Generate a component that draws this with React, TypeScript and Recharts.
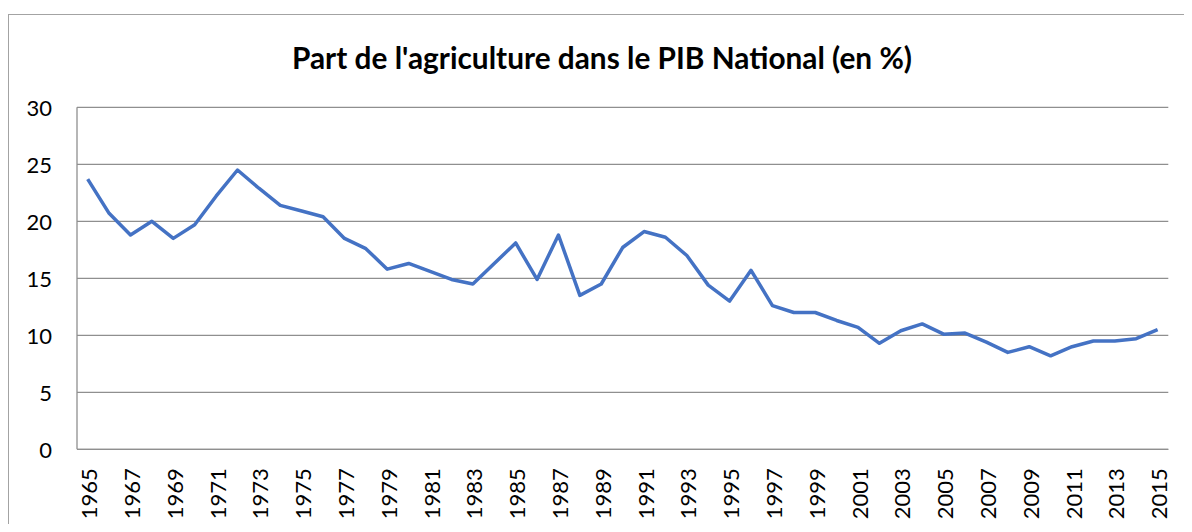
import { LineChart, Line, XAxis, YAxis, CartesianGrid } from "recharts";

const TITLE = "Part de l'agriculture dans le PIB National (en %)";

const YEARS = [
  "1965", "1966", "1967", "1968", "1969", "1970", "1971", "1972", "1973", "1974",
  "1975", "1976", "1977", "1978", "1979", "1980", "1981", "1982", "1983", "1984",
  "1985", "1986", "1987", "1988", "1989", "1990", "1991", "1992", "1993", "1994",
  "1995", "1996", "1997", "1998", "1999", "2000", "2001", "2002", "2003", "2004",
  "2005", "2006", "2007", "2008", "2009", "2010", "2011", "2012", "2013", "2014",
  "2015",
];

const SHARE = [
  23.7, 20.7, 18.8, 20.0, 18.5, 19.7, 22.2, 24.5, 22.9, 21.4,
  20.9, 20.4, 18.5, 17.6, 15.8, 16.3, 15.6, 14.9, 14.5, 16.3,
  18.1, 14.9, 18.8, 13.5, 14.5, 17.7, 19.1, 18.6, 17.0, 14.4,
  13.0, 15.7, 12.6, 12.0, 12.0, 11.3, 10.7, 9.3, 10.4, 11.0,
  10.1, 10.2, 9.4, 8.5, 9.0, 8.2, 9.0, 9.5, 9.5, 9.7,
  10.5,
];

const Y_TICKS = [0, 5, 10, 15, 20, 25, 30];

const data = YEARS.map((year, i) => ({ year, share: SHARE[i] }));

const FONT = "Lato, 'Open Sans', sans-serif";
const GRID = "#8f8f8f";

function YTick(props: any) {
  const { x, y, payload } = props;
  return (
    <text
      x={x - 25}
      y={y}
      textAnchor="end"
      dominantBaseline="central"
      fontFamily={FONT}
      fontSize={22}
      fill="#000"
    >
      {payload.value}
    </text>
  );
}

function XTick(props: any) {
  const { x, y, payload } = props;
  return (
    <text
      transform={`translate(${x + 1},${y + 19}) rotate(-90)`}
      textAnchor="end"
      dominantBaseline="central"
      fontFamily={FONT}
      fontSize={22}
      fill="#000"
    >
      {payload.value}
    </text>
  );
}

export default function App() {
  return (
    <div
      style={{
        position: "relative",
        width: 1184,
        height: 524,
        marginBottom: -8,
        overflow: "hidden",
        background: "#fff",
      }}
    >
      <div
        style={{
          position: "absolute",
          left: 0,
          top: 6,
          width: 1300,
          height: 700,
          border: "1px solid #a3a3a3",
        }}
      />
      <svg
        width={1184}
        height={100}
        style={{ position: "absolute", left: 0, top: 0 }}
      >
        <text
          x={284}
          y={61}
          textLength={620}
          lengthAdjust="spacingAndGlyphs"
          fontFamily={FONT}
          fontWeight={700}
          fontSize={30}
          fill="#000"
        >
          {TITLE}
        </text>
      </svg>
      <div style={{ position: "absolute", left: 0, top: 0 }}>
        <LineChart
          width={1184}
          height={524}
          data={data}
          margin={{ top: 99.3, right: 23.7, left: 29, bottom: 22.7 }}
        >
          <CartesianGrid vertical={false} stroke={GRID} strokeWidth={1.3} />
          <XAxis
            dataKey="year"
            interval={1}
            height={60}
            padding={{ left: 10.7, right: 10.7 }}
            axisLine={{ stroke: GRID, strokeWidth: 1.3 }}
            tickLine={false}
            tickSize={0}
            tickMargin={0}
            tick={<XTick />}
          />
          <YAxis
            width={40}
            domain={[0, 30]}
            ticks={Y_TICKS}
            interval={0}
            axisLine={{ stroke: GRID, strokeWidth: 1.3 }}
            tickLine={false}
            tickSize={0}
            tickMargin={0}
            tick={<YTick />}
          />
          <Line
            type="linear"
            dataKey="share"
            stroke="#4472C4"
            strokeWidth={3.5}
            strokeLinejoin="round"
            dot={false}
            activeDot={false}
            isAnimationActive={false}
          />
        </LineChart>
      </div>
    </div>
  );
}
